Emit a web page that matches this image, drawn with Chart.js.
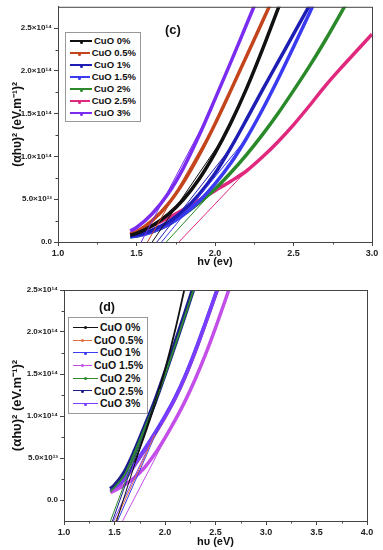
<!DOCTYPE html>
<html>
<head>
<meta charset="utf-8">
<script src="https://cdn.jsdelivr.net/npm/chart.js@4.4.0/dist/chart.umd.min.js"></script>
<style>
body { margin: 0; background: #fff; font-family: "Liberation Sans", Arial, sans-serif; }
#wrap { position: relative; width: 383px; height: 550px; overflow: hidden; }
canvas { position: absolute; left: 0; }
.legend { position: absolute; border: 1px solid #999; background: #fff; font-weight: bold; color: #111; padding: 0 4px 0 4px; box-sizing: border-box; }
.legend div { display: flex; align-items: center; white-space: nowrap; }
.legend .ln { position: relative; display: inline-block; height: 0; margin-right: 2px; }
.legend .dot { position: absolute; left: 50%; top: 50%; width: 3px; height: 3px; margin: -1.5px 0 0 -1.5px; border-radius: 50%; }
.tag { position: absolute; font-weight: bold; color: #111; }
</style>
</head>
<body>
<div id="wrap">
  <canvas id="chartC" width="383" height="270" style="top:0"></canvas>
  <canvas id="chartD" width="383" height="270" style="top:280px"></canvas>
  <div id="legendC" class="legend" style="left:65px;top:32px;width:76px;font-size:9.5px;line-height:12px;padding-top:2px;padding-bottom:2px"></div>
  <div id="legendD" class="legend" style="left:68px;top:317px;width:80px;font-size:10.5px;line-height:12.7px;padding-top:3px;padding-bottom:3px"></div>
  <div class="tag" style="left:165px;top:22px;font-size:13px">(c)</div>
  <div class="tag" style="left:99px;top:300px;font-size:12.5px">(d)</div>
</div>
<script>
const labels = ['CuO 0%', 'CuO 0.5%', 'CuO 1%', 'CuO 1.5%', 'CuO 2%', 'CuO 2.5%', 'CuO 3%'];

// ---- panel (c) ----
const cX = [1.46, 1.5, 1.6, 1.7, 1.8, 1.9, 2.0, 2.1, 2.2, 2.3, 2.4, 2.5, 2.6, 2.7, 2.8, 2.9, 3.0];
const cCuO0  = [0.08e14, 0.10e14, 0.19e14, 0.32e14, 0.50e14, 0.74e14, 1.04e14, 1.39e14, 1.79e14, 2.24e14, 2.72e14, 3.20e14, null, null, null, null, null];
const cCuO05 = [0.09e14, 0.12e14, 0.25e14, 0.44e14, 0.70e14, 1.02e14, 1.38e14, 1.77e14, 2.17e14, 2.57e14, 2.97e14, null, null, null, null, null, null];
const cCuO1  = [0.07e14, 0.08e14, 0.14e14, 0.23e14, 0.37e14, 0.56e14, 0.80e14, 1.10e14, 1.43e14, 1.77e14, 2.10e14, 2.43e14, 2.76e14, 3.09e14, null, null, null];
const cCuO15 = [0.06e14, 0.07e14, 0.12e14, 0.20e14, 0.32e14, 0.48e14, 0.68e14, 0.92e14, 1.21e14, 1.54e14, 1.90e14, 2.28e14, 2.67e14, 3.07e14, null, null, null];
const cCuO2  = [0.06e14, 0.07e14, 0.12e14, 0.20e14, 0.32e14, 0.46e14, 0.62e14, 0.81e14, 1.02e14, 1.25e14, 1.50e14, 1.77e14, 2.05e14, 2.35e14, 2.67e14, 3.00e14, null];
const cCuO25 = [0.10e14, 0.12e14, 0.19e14, 0.28e14, 0.38e14, 0.49e14, 0.60e14, 0.71e14, 0.83e14, 0.99e14, 1.17e14, 1.37e14, 1.59e14, 1.82e14, 2.03e14, 2.23e14, 2.43e14];
const cCuO3  = [0.13e14, 0.17e14, 0.33e14, 0.56e14, 0.87e14, 1.25e14, 1.67e14, 2.10e14, 2.54e14, 2.98e14, null, null, null, null, null, null, null];
// tangent (fit) lines, in label order
const cFitStartX = [1.60, 1.57, 1.63, 1.66, 1.69, 1.77, 1.53];
const cFitEndX   = [2.05, 2.00, 2.10, 2.20, 2.20, 2.20, 1.95];
const cFitEndY   = [1.21e14, 1.38e14, 1.10e14, 1.21e14, 1.02e14, 0.83e14, 1.46e14];
const cColors = ['#111111', '#c4441c', '#1e1eb4', '#3a3af2', '#2a8a2a', '#e0287e', '#7a2cf0'];
const cWidths = [3.5, 3.5, 3.5, 3.5, 3.5, 3.5, 3.5];
const cOrder  = [1, 2, 3, 4, 5, 6, 0];
const cXTicks = [1.0, 1.5, 2.0, 2.5, 3.0];
const cYTicks = [0, 0.5e14, 1.0e14, 1.5e14, 2.0e14, 2.5e14];
const cYTickLabels = ['0.0', '5.0×10¹³', '1.0×10¹⁴', '1.5×10¹⁴', '2.0×10¹⁴', '2.5×10¹⁴'];

// ---- panel (d) ----
const dX = [1.46, 1.5, 1.6, 1.7, 1.8, 1.9, 2.0, 2.1, 2.2, 2.3, 2.4, 2.5, 2.6, 2.7];
const dCuO0  = [null, null, null, 0.45e14, 0.78e14, 1.14e14, 1.55e14, 2.02e14, 2.55e14, null, null, null, null, null];
const dCuO05 = [0.09e14, 0.12e14, 0.24e14, 0.41e14, 0.59e14, 0.78e14, 0.98e14, 1.20e14, 1.46e14, 1.76e14, 2.09e14, 2.43e14, 2.77e14, null];
const dCuO1  = [0.11e14, 0.14e14, 0.26e14, 0.43e14, 0.61e14, 0.80e14, 1.00e14, 1.22e14, 1.48e14, 1.78e14, 2.11e14, 2.45e14, 2.79e14, null];
const dCuO15 = [0.09e14, 0.11e14, 0.18e14, 0.27e14, 0.39e14, 0.55e14, 0.74e14, 0.95e14, 1.18e14, 1.44e14, 1.73e14, 2.05e14, 2.39e14, 2.74e14];
const dCuO2  = [0.10e14, 0.15e14, 0.30e14, 0.57e14, 0.86e14, 1.16e14, 1.49e14, 1.84e14, 2.20e14, 2.57e14, null, null, null, null];
const dCuO25 = [0.13e14, 0.17e14, 0.33e14, 0.58e14, 0.87e14, 1.17e14, 1.51e14, 1.86e14, 2.22e14, 2.59e14, null, null, null, null];
const dCuO3  = [0.10e14, 0.13e14, 0.25e14, 0.42e14, 0.60e14, 0.79e14, 0.99e14, 1.21e14, 1.47e14, 1.77e14, 2.10e14, 2.44e14, 2.78e14, null];
const dFitStartX = [1.52, 1.51, 1.53, 1.58, 1.46, 1.48, 1.49];
const dFitStartY = [-0.25e14, -0.25e14, -0.25e14, -0.25e14, -0.25e14, -0.25e14, -0.25e14];
const dFitEndX   = [2.00, 1.90, 1.95, 2.05, 1.95, 1.90, 1.90];
const dFitEndY   = [1.55e14, 0.78e14, 0.90e14, 0.84e14, 1.32e14, 1.17e14, 0.79e14];
const dColors = ['#111111', '#e07040', '#3b3bf0', '#c44ee8', '#2e8b2e', '#1c1c8c', '#7a3cff'];
const dWidths = [1.8, 3, 3.5, 3.5, 1.8, 4.5, 3.5];
const dOrder  = [0, 5, 4, 2, 1, 3, 2];
const dXTicks = [1.0, 1.5, 2.0, 2.5, 3.0, 3.5, 4.0];
const dYTicks = [0, 0.5e14, 1.0e14, 1.5e14, 2.0e14, 2.5e14];
const dYTickLabels = ['0.0', '5.0×10¹³', '1.0×10¹⁴', '1.5×10¹⁴', '2.0×10¹⁴', '2.5×10¹⁴'];

// frame round the plot area + minor ticks between the major ones
const framePlugin = {
    id: 'frame',
    afterDraw(chart) {
        const { ctx, chartArea: a } = chart;
        ctx.save();
        ctx.strokeStyle = '#444';
        ctx.lineWidth = 1;
        ctx.strokeRect(a.left + 0.5, a.top + 0.5, a.right - a.left, a.bottom - a.top);
        ['x', 'y'].forEach(id => {
            const s = chart.scales[id];
            const t = s.ticks;
            for (let i = 0; i < t.length - 1; i++) {
                const p = Math.round(s.getPixelForValue((t[i].value + t[i + 1].value) / 2)) + 0.5;
                ctx.beginPath();
                if (id === 'x') { ctx.moveTo(p, a.bottom); ctx.lineTo(p, a.bottom + 2.5); }
                else { ctx.moveTo(a.left, p); ctx.lineTo(a.left - 2.5, p); }
                ctx.stroke();
            }
        });
        ctx.restore();
    }
};

function points(xs, ys) {
    return xs.map((x, i) => ({ x: x, y: ys[i] })).filter(p => p.y !== null);
}

function makeDatasets(xs, series, colors, widths, order, fitX0, fitY0, fitX1, fitY1) {
    const sets = [];
    series.forEach((ys, i) => {
        sets.push({
            label: labels[i],
            data: points(xs, ys),
            borderColor: colors[i],
            borderWidth: widths[i],
            order: order[i] + 1,
            pointRadius: 0,
            cubicInterpolationMode: 'monotone',
            clip: 0
        });
        sets.push({
            label: labels[i] + ' fit',
            data: [{ x: fitX0[i], y: fitY0[i] }, { x: fitX1[i], y: fitY1[i] }],
            borderColor: colors[i],
            borderWidth: 1,
            order: 0,
            pointRadius: 0,
            clip: 0
        });
    });
    return sets;
}

function makeChart(id, datasets, xMin, xMax, xTicks, yMin, yMax, yTicks, yTickLabels, xTitle, yTitleSize, pad, yWidth, xHeight) {
    const ctx = document.getElementById(id).getContext('2d');
    return new Chart(ctx, {
        type: 'line',
        data: { datasets: datasets },
        options: {
            responsive: false,
            animation: false,
            devicePixelRatio: 1,
            layout: { padding: pad },
            plugins: { legend: { display: false }, tooltip: { enabled: false } },
            scales: {
                x: {
                    type: 'linear',
                    min: xMin,
                    max: xMax,
                    afterBuildTicks: s => { s.ticks = xTicks.map(v => ({ value: v })); },
                    afterFit: s => { s.height = xHeight; },
                    ticks: {
                        callback: v => v.toFixed(1),
                        font: { family: 'Liberation Sans', size: 9, weight: 'bold' },
                        color: '#222',
                        padding: 2,
                        maxRotation: 0
                    },
                    grid: { drawOnChartArea: false, tickLength: 4, color: '#444' },
                    border: { color: '#444' },
                    title: {
                        display: true,
                        text: xTitle,
                        font: { family: 'Liberation Sans', size: 11, weight: 'bold' },
                        color: '#111',
                        padding: { top: 0, bottom: 1 }
                    }
                },
                y: {
                    min: yMin,
                    max: yMax,
                    afterBuildTicks: s => { s.ticks = yTicks.map(v => ({ value: v })); },
                    afterFit: s => { s.width = yWidth; },
                    ticks: {
                        callback: (v, i) => yTickLabels[i],
                        font: { family: 'Liberation Sans', size: 8, weight: 'bold' },
                        color: '#222',
                        padding: 2
                    },
                    grid: { drawOnChartArea: false, tickLength: 4, color: '#444' },
                    border: { color: '#444' },
                    title: {
                        display: true,
                        text: '(αhυ)² (eV.m⁻¹)²',
                        font: { family: 'Liberation Sans', size: yTitleSize, weight: 'bold' },
                        color: '#111',
                        padding: { top: 10, bottom: 0 }
                    }
                }
            }
        },
        plugins: [framePlugin]
    });
}

function buildLegend(elId, colors, lineW, lineH) {
    const el = document.getElementById(elId);
    labels.forEach((lab, i) => {
        const row = document.createElement('div');
        row.innerHTML = '<span class="ln" style="width:' + lineW + 'px;border-top:' + lineH + 'px solid ' + colors[i] +
            '"><span class="dot" style="background:' + colors[i] + '"></span></span>' + lab;
        el.appendChild(row);
    });
}

makeChart('chartC',
    makeDatasets(cX, [cCuO0, cCuO05, cCuO1, cCuO15, cCuO2, cCuO25, cCuO3], cColors, cWidths, cOrder,
        cFitStartX, cFitStartX.map(() => 0), cFitEndX, cFitEndY),
    1.0, 3.0, cXTicks, 0, 2.75e14, cYTicks, cYTickLabels, 'hv (ev)', 12,
    { left: 0, right: 11, top: 6, bottom: 0 }, 58, 28);

makeChart('chartD',
    makeDatasets(dX, [dCuO0, dCuO05, dCuO1, dCuO15, dCuO2, dCuO25, dCuO3], dColors, dWidths, dOrder,
        dFitStartX, dFitStartY, dFitEndX, dFitEndY),
    1.0, 4.0, dXTicks, -0.25e14, 2.5e14, dYTicks, dYTickLabels, 'hυ (eV)', 13,
    { left: 0, right: 16, top: 10, bottom: 0 }, 64, 29);

buildLegend('legendC', cColors, 22, 2);
buildLegend('legendD', dColors, 25, 1);
</script>
</body>
</html>
